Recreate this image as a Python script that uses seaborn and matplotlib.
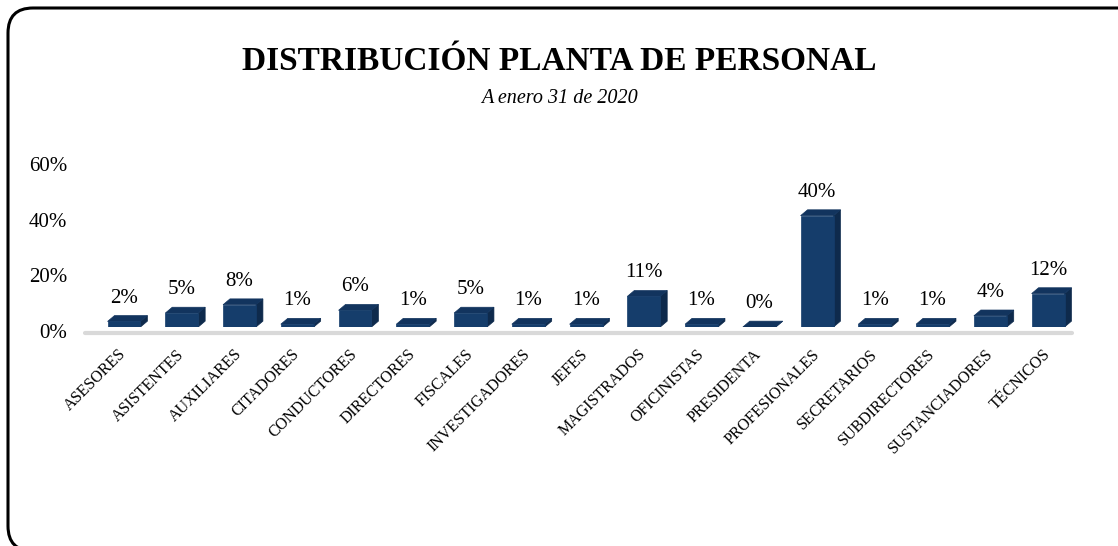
import pandas as pd
import matplotlib.pyplot as plt
import seaborn as sns
from matplotlib.patches import Polygon, FancyBboxPatch
from matplotlib.ticker import PercentFormatter
from matplotlib.transforms import ScaledTranslation

# datos: distribución de la planta de personal (porcentaje)
cargos = ['ASESORES', 'ASISTENTES', 'AUXILIARES', 'CITADORES', 'CONDUCTORES',
          'DIRECTORES', 'FISCALES', 'INVESTIGADORES', 'JEFES', 'MAGISTRADOS',
          'OFICINISTAS', 'PRESIDENTA', 'PROFESIONALES', 'SECRETARIOS',
          'SUBDIRECTORES', 'SUSTANCIADORES', 'TÉCNICOS']
porcentajes = [2, 5, 8, 1, 6, 1, 5, 1, 1, 11, 1, 0, 40, 1, 1, 4, 12]
etiquetas = [f'{p}%' for p in porcentajes]
yticks = [0, 20, 40, 60]

df = pd.DataFrame({'cargo': cargos, 'pct': [p / 100 for p in porcentajes]})

sns.set_theme(style='white')
plt.rcParams['font.family'] = ['Liberation Serif', 'DejaVu Serif']
plt.rcParams['text.color'] = 'black'
plt.rcParams['xtick.color'] = 'black'
plt.rcParams['ytick.color'] = 'black'

fig = plt.figure(figsize=(11.18, 5.46), dpi=100)
ax = fig.add_axes([0.0851, 0.4011, 0.8782, 0.3059])

frente = '#153D6B'
lado = '#0E2A4C'
tapa = '#12345E'

sns.barplot(data=df, x='cargo', y='pct', color=frente, width=0.57,
            saturation=1, edgecolor=frente, linewidth=0.5, ax=ax)
ax.set_xlim(-0.5, len(cargos) - 0.5)
ax.set_ylim(0, 0.6)

# efecto 3D: cara lateral y tapa
dx, dy = 0.12, 0.021
for p in ax.patches:
    x0, w, h = p.get_x(), p.get_width(), p.get_height()
    x1 = x0 + w
    ax.add_patch(Polygon([(x1, 0), (x1 + dx, dy), (x1 + dx, h + dy), (x1, h)],
                         closed=True, facecolor=lado, edgecolor=lado, lw=0.5, zorder=3))
    ax.add_patch(Polygon([(x0, h), (x0 + dx, h + dy), (x1 + dx, h + dy), (x1, h)],
                         closed=True, facecolor=tapa, edgecolor=tapa, lw=0.5, zorder=3))
    p.set_zorder(4)

# piso
ax.axhline(-0.022, xmin=-0.01, xmax=0.995, color='#d9d9d9', lw=3, clip_on=False, zorder=1)

ax.bar_label(ax.containers[0], labels=etiquetas, padding=10, fontsize=15)

ax.set_yticks([t / 100 for t in yticks])
ax.yaxis.set_major_formatter(PercentFormatter(1.0, decimals=0))
ax.tick_params(axis='y', labelsize=15, length=0, pad=20)
ax.tick_params(axis='x', labelsize=11.5, length=0, pad=18)
plt.setp(ax.get_xticklabels(), rotation=45, ha='right', va='center',
         rotation_mode='anchor')
bajar = ScaledTranslation(0, -4 / 100, fig.dpi_scale_trans)
for lab in ax.get_yticklabels():
    lab.set_transform(lab.get_transform() + bajar)
ax.set_xlabel('')
ax.set_ylabel('')
sns.despine(ax=ax, left=True, bottom=True)

fig.text(0.5, 0.888, 'DISTRIBUCIÓN PLANTA DE PERSONAL', ha='center', va='center',
         fontsize=24, fontweight='bold')
fig.text(0.5, 0.82, 'A enero 31 de 2020', ha='center', va='center',
         fontsize=14.5, style='italic')

# marco redondeado (se sale por la derecha y por abajo)
marco = FancyBboxPatch((0.08, -0.05), 11.6, 5.43, transform=fig.dpi_scale_trans,
                       boxstyle='round,pad=0,rounding_size=0.25', facecolor='none',
                       edgecolor='black', lw=2.2)
fig.patches.append(marco)

fig.savefig('out.png', dpi=100)
